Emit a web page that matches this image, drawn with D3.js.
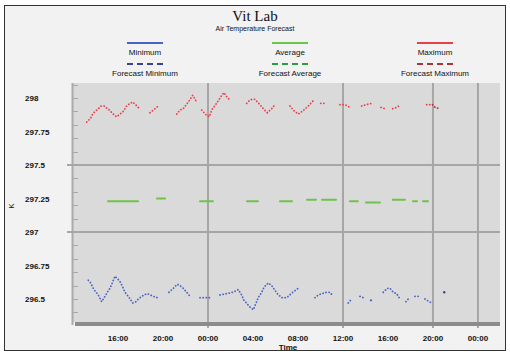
<!DOCTYPE html>
<html><head><meta charset="utf-8">
<script src="https://cdn.jsdelivr.net/npm/d3@7"></script>
<style>html,body{margin:0;padding:0;background:#fff;}svg{display:block;}</style>
</head><body>
<svg id="c" width="510" height="352"></svg>
<script>
const titleText = "Vit Lab";
const subtitleText = "Air Temperature Forecast";
const xTitle = "Time";
const yTitle = "K";
const xTickHours = [0,4,8,12,16,20,24,28,32];
const xTickLabels = ["16:00","20:00","00:00","04:00","08:00","12:00","16:00","20:00","00:00"];
const xGridHours = [8,20,28,32];
const yTickValues = [298,297.75,297.5,297.25,297,296.75,296.5];
const yTickLabels = ["298","297.75","297.5","297.25","297","296.75","296.5"];
const yGridValues = [297.5,297];
const seriesNames = ["Minimum","Average","Maximum","Forecast Minimum","Forecast Average","Forecast Maximum"];

const maximum = [[-2.78,297.82],[-2.43,297.85],[-2.25,297.88],[-2.04,297.90],[-1.75,297.92],[-1.51,297.94],[-1.24,297.94],[-0.77,297.91],[-0.42,297.88],[-0.12,297.86],[0.18,297.88],[0.47,297.90],[0.77,297.94],[1.07,297.96],[1.31,297.97],[1.57,297.95],[1.80,297.93],[2.02,297.92],null,
[2.84,297.89],[3.29,297.92],[3.58,297.94],null,
[5.22,297.88],[5.51,297.91],[5.80,297.92],[6.25,297.97],[6.64,298.02],[6.93,297.98],null,
[7.44,297.91],[7.88,297.87],[8.12,297.86],[8.33,297.91],[8.68,297.95],[8.92,297.98],[9.22,298.02],[9.42,298.04],[9.66,298.01],[9.89,297.99],null,
[11.44,297.96],[11.67,297.98],[11.88,297.99],[12.18,297.99],[12.62,297.95],[12.92,297.92],[13.27,297.89],[13.66,297.92],[13.96,297.95],null,
[15.29,297.94],[15.58,297.91],[16.03,297.88],[16.38,297.90],[16.92,297.94],[17.36,297.98],null,
[18.02,297.96],[18.49,297.96],null,
[19.73,297.95],[20.18,297.95],[20.62,297.93],null,
[21.66,297.94],[22.04,297.95],[22.55,297.96],null,
[23.38,297.93],[23.73,297.92],null,
[24.42,297.92],[24.77,297.93],[25.13,297.95],null,
[27.44,297.95],[27.97,297.95]];
const forecastMaximum = [[27.97,297.95],[28.2,297.93],[28.56,297.92]];

const minimum = [[-2.64,296.64],[-2.43,296.62],[-2.2,296.58],[-2.04,296.56],[-1.75,296.53],[-1.45,296.48],[-1.16,296.52],[-0.95,296.55],[-0.71,296.58],[-0.51,296.62],[-0.27,296.67],[-0.03,296.65],[0.18,296.63],[0.42,296.59],[0.62,296.55],[1.0,296.51],[1.31,296.47],[1.6,296.48],[1.8,296.50],[2.31,296.53],[2.6,296.54],[3.14,296.52],[3.49,296.51],null,
[4.53,296.55],[4.92,296.58],[5.27,296.61],[5.51,296.60],[5.80,296.58],[6.11,296.55],[6.4,296.52],null,
[7.29,296.51],[8.18,296.51],null,
[9.07,296.53],[9.66,296.54],[10.2,296.55],[10.69,296.57],[10.99,296.53],[11.2,296.49],[11.73,296.44],[12.03,296.42],[12.27,296.47],[12.47,296.51],[12.77,296.55],[13.0,296.59],[13.36,296.62],[13.66,296.60],[14.16,296.54],[14.55,296.51],[15.0,296.51],[15.53,296.55],[16.03,296.58],null,
[17.51,296.51],[17.8,296.53],[18.11,296.54],[18.55,296.55],[18.84,296.55],[19.14,296.52],null,
[20.47,296.47],[20.77,296.50],null,
[21.51,296.52],[21.8,296.51],null,
[22.49,296.49],null,
[23.58,296.55],[23.94,296.58],[24.18,296.58],[24.47,296.55],[24.77,296.54],[25.07,296.50],null,
[25.6,296.48],[25.8,296.50],null,
[26.4,296.52],[26.78,296.52],null,
[27.29,296.50],[27.88,296.47]];
const forecastMinimum = [[29.0,296.55]];

const average = [[-0.89,297.23],[0,297.23],[0.89,297.23],[1.78,297.23],null,
[3.47,297.25],[4.18,297.25],null,
[7.29,297.23],[8.44,297.23],null,
[11.47,297.23],[12.44,297.23],null,
[14.4,297.23],[15.47,297.23],null,
[16.8,297.24],[17.6,297.24],null,
[18.13,297.24],[19.38,297.24],null,
[20.62,297.23],[21.33,297.23],null,
[22.04,297.22],[23.29,297.22],null,
[24.44,297.24],[25.51,297.24],null,
[26.22,297.23],[26.58,297.23],null,
[27.11,297.23],[27.56,297.23]];
const forecastAverage = [];

const colors = {min:"#4a62c4", avg:"#6cc44a", max:"#e8404a", fmin:"#3a4496", favg:"#2e9a48", fmax:"#a8343c"};

const svg = d3.select("#c");
svg.append("rect").attr("x",0).attr("y",0).attr("width",510).attr("height",352).attr("fill","#ffffff");
svg.append("rect").attr("x",4.5).attr("y",5.5).attr("width",501).attr("height",345).attr("fill","#f2f2f2").attr("stroke","#333").attr("stroke-width",1);

const L=72, R=500, T=83, B=322;
const x = d3.scaleLinear().domain([-4.09,33.96]).range([L,R]);
const y = d3.scaleLinear().domain([296.5,298]).range([299,98]);

svg.append("rect").attr("x",L).attr("y",T).attr("width",R-L).attr("height",B-T).attr("fill","#dadada");

const minor = d3.range(296.4,298.15,0.1).filter(v=>y(v)>=T-1 && y(v)<=B);
svg.append("g").selectAll("line").data(minor).join("line")
  .attr("x1",L).attr("x2",L+6).attr("y1",d=>Math.round(y(d))+0.5).attr("y2",d=>Math.round(y(d))+0.5)
  .attr("stroke","#a8a8a8").attr("stroke-width",1);
svg.append("line").attr("x1",L+0.5).attr("x2",L+0.5).attr("y1",T).attr("y2",B+3).attr("stroke","#aaaaaa").attr("stroke-width",2);

svg.append("g").selectAll("line").data(yGridValues).join("line")
  .attr("x1",L-5).attr("x2",R).attr("y1",d=>y(d)).attr("y2",d=>y(d))
  .attr("stroke","#a6a6a6").attr("stroke-width",2);
svg.append("g").selectAll("line").data(xGridHours).join("line")
  .attr("x1",d=>x(d)).attr("x2",d=>x(d)).attr("y1",T).attr("y2",B+6)
  .attr("stroke","#a6a6a6").attr("stroke-width",2);

svg.append("rect").attr("x",L+3).attr("y",B).attr("width",R-L-3).attr("height",4).attr("fill","#8c8c8c");

svg.append("g").selectAll("text").data(yTickValues).join("text")
  .attr("x",25).attr("y",d=>y(d)+3).text((d,i)=>yTickLabels[i])
  .attr("font-family","Liberation Sans, Arial, sans-serif").attr("font-size",8).attr("font-weight","bold").attr("fill","#111");
svg.append("g").selectAll("text").data(xTickHours).join("text")
  .attr("x",d=>x(d)).attr("y",341).attr("text-anchor","middle").text((d,i)=>xTickLabels[i])
  .attr("font-family","Liberation Sans, Arial, sans-serif").attr("font-size",8).attr("font-weight","bold").attr("fill","#111");
svg.append("text").attr("x",288).attr("y",350).attr("text-anchor","middle").text(xTitle)
  .attr("font-family","Liberation Sans, Arial, sans-serif").attr("font-size",8).attr("font-weight","bold").attr("fill","#111");
svg.append("text").attr("transform","translate(14,206) rotate(-90)").attr("text-anchor","middle").text(yTitle)
  .attr("font-family","Liberation Sans, Arial, sans-serif").attr("font-size",8).attr("fill","#111");

svg.append("text").attr("x",255).attr("y",21).attr("text-anchor","middle").text(titleText)
  .attr("font-family","Liberation Serif, serif").attr("font-size",15).attr("fill","#111");
svg.append("text").attr("x",255).attr("y",31).attr("text-anchor","middle").text(subtitleText)
  .attr("font-family","Liberation Sans, Arial, sans-serif").attr("font-size",7).attr("fill","#111");

const legCols = [145,290,435];
const legColors = [colors.min,colors.avg,colors.max,colors.fmin,colors.favg,colors.fmax];
seriesNames.forEach((n,i)=>{
  const col = i%3, row = Math.floor(i/3);
  const cx = legCols[col];
  const ly = row===0 ? 43 : 64;
  svg.append("line").attr("x1",cx-18).attr("x2",cx+18).attr("y1",ly).attr("y2",ly)
    .attr("stroke",legColors[i]).attr("stroke-width",2)
    .attr("stroke-dasharray",row===0?null:"6,4");
  svg.append("text").attr("x",cx).attr("y",ly+12).attr("text-anchor","middle").text(n)
    .attr("font-family","Liberation Sans, Arial, sans-serif").attr("font-size",8).attr("fill","#111");
});

const line = d3.line().defined(d=>d!=null).x(d=>x(d[0])).y(d=>y(d[1]));
const g = svg.append("g");
function draw(data,color,dash,w){
  if(!data.length) return;
  g.append("path").attr("d",line(data)).attr("fill","none").attr("stroke",color)
    .attr("stroke-width",w).attr("stroke-linecap","round").attr("stroke-dasharray",dash);
  // isolated points (no neighbours) drawn as dots
  const iso = data.filter((d,i)=>d && !data[i-1] && !data[i+1]);
  g.selectAll(null).data(iso).join("circle")
    .attr("cx",d=>x(d[0])).attr("cy",d=>y(d[1])).attr("r",w/2+0.2).attr("fill",color);
}
draw(average,colors.avg,null,2);
draw(forecastAverage,colors.favg,"3,3",2);
draw(maximum,colors.max,"0.1,3",1.8);
draw(forecastMaximum,colors.fmax,"0.1,3",1.8);
draw(minimum,colors.min,"0.1,3",1.8);
draw(forecastMinimum,colors.fmin,"0.1,3",2);
</script>
</body></html>
